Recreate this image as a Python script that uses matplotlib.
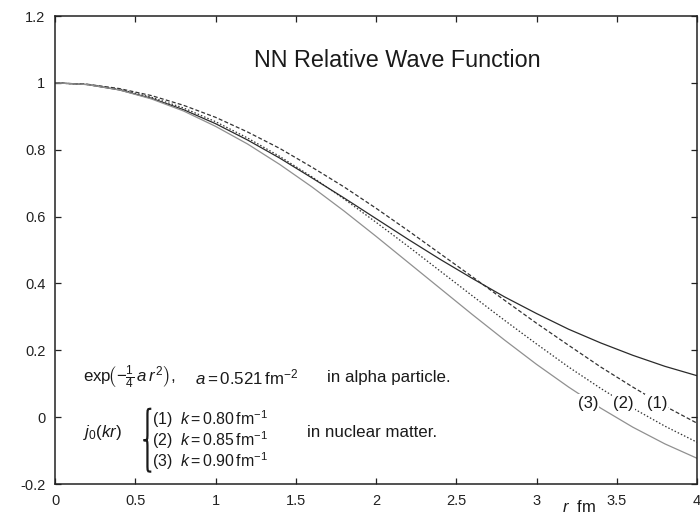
import matplotlib
matplotlib.use('Agg')
import matplotlib.pyplot as plt
from matplotlib.path import Path
from matplotlib.patches import PathPatch
from matplotlib.ticker import FormatStrFormatter

plt.rcParams['font.family'] = ['Liberation Sans', 'DejaVu Sans']
plt.rcParams['mathtext.fontset'] = 'custom'
plt.rcParams['mathtext.rm'] = 'Liberation Sans'
plt.rcParams['mathtext.it'] = 'Liberation Sans:italic'
plt.rcParams['mathtext.bf'] = 'Liberation Sans:bold'
plt.rcParams['axes.unicode_minus'] = False

# r in fm, every 0.2 fm
r = [0.0, 0.2, 0.4, 0.6, 0.8, 1.0, 1.2, 1.4, 1.6, 1.8, 2.0,
     2.2, 2.4, 2.6, 2.8, 3.0, 3.2, 3.4, 3.6, 3.8, 4.0]
gauss = [1.000, 0.995, 0.979, 0.954, 0.920, 0.878, 0.829, 0.775, 0.716, 0.656, 0.594,
         0.532, 0.472, 0.415, 0.360, 0.310, 0.263, 0.222, 0.185, 0.152, 0.124]
j0_k080 = [1.000, 0.996, 0.983, 0.962, 0.933, 0.897, 0.853, 0.804, 0.748, 0.689, 0.625,
           0.558, 0.489, 0.420, 0.350, 0.281, 0.215, 0.150, 0.090, 0.033, -0.018]
j0_k085 = [1.000, 0.995, 0.981, 0.957, 0.925, 0.884, 0.835, 0.780, 0.719, 0.653, 0.583,
           0.511, 0.437, 0.363, 0.290, 0.219, 0.150, 0.086, 0.027, -0.027, -0.075]
j0_k090 = [1.000, 0.995, 0.979, 0.952, 0.916, 0.870, 0.817, 0.756, 0.689, 0.617, 0.541,
           0.463, 0.385, 0.307, 0.231, 0.158, 0.090, 0.027, -0.030, -0.080, -0.123]

xticks = [0, 0.5, 1, 1.5, 2, 2.5, 3, 3.5, 4]
yticks = [-0.2, 0, 0.2, 0.4, 0.6, 0.8, 1, 1.2]

fig = plt.figure(figsize=(7, 5.15), dpi=100)
ax = fig.add_axes([55/700, 31/515, 642/700, 468/515])

ax.plot(r, gauss, '-', color='#2a2a2a', lw=0.9)
ax.plot(r, j0_k080, color='#333333', lw=0.9, dashes=(3.2, 1.8))
ax.plot(r, j0_k085, color='#333333', lw=0.9, dashes=(1.2, 1.6))
ax.plot(r, j0_k090, '-', color='#909090', lw=0.9)

ax.set_xlim(0, 4)
ax.set_ylim(-0.2, 1.2)
ax.set_xticks(xticks)
ax.set_yticks(yticks)
ax.xaxis.set_major_formatter(FormatStrFormatter('%g'))
ax.yaxis.set_major_formatter(FormatStrFormatter('%g'))
ax.tick_params(direction='in', length=4, width=0.9, top=True, right=True,
               labelsize=10.5, colors='#222222')
ax.tick_params(axis='x', pad=7)
ax.tick_params(axis='y', pad=7)
for s in ax.spines.values():
    s.set_linewidth(1.1)
    s.set_color('#222222')

tc = '#1a1a1a'
fs = 12.2
ax.text(2.13, 1.068, 'NN Relative Wave Function', fontsize=16.8, ha='center', va='center', color=tc)

ax.text(0.174, 0.120, r'exp$\!\left(-\frac{1}{4}\,a\,r^2\right)$,', fontsize=fs, va='center', color=tc)
ax.text(0.872, 0.120, r'$a = 0.521\,\mathrm{fm}^{-2}$', fontsize=fs, va='center', color=tc)
ax.text(1.695, 0.120, 'in alpha particle.', fontsize=fs, va='center', color=tc)

ax.text(0.174, -0.045, r'$j_0(kr)$', fontsize=fs, va='center', color=tc)
fk = 11.4
ax.text(0.604, -0.006, r'(1)  $k = 0.80\,\mathrm{fm}^{-1}$', fontsize=fk, va='center', color=tc)
ax.text(0.604, -0.069, r'(2)  $k = 0.85\,\mathrm{fm}^{-1}$', fontsize=fk, va='center', color=tc)
ax.text(0.604, -0.132, r'(3)  $k = 0.90\,\mathrm{fm}^{-1}$', fontsize=fk, va='center', color=tc)
ax.text(1.570, -0.045, 'in nuclear matter.', fontsize=fs, va='center', color=tc)

# curly brace in front of the three k values
xt, xe = 0.552, 0.600
yt, yb = 0.025, -0.163
ym = (yt + yb) / 2
xm = (xt + xe) / 2
q = 0.022
verts = [(xe, yt), (xm, yt), (xm, yt), (xm, yt - q),
         (xm, ym + q),
         (xm, ym), (xm, ym), (xt, ym),
         (xm, ym), (xm, ym), (xm, ym - q),
         (xm, yb + q),
         (xm, yb), (xm, yb), (xe, yb)]
codes = [Path.MOVETO, Path.CURVE4, Path.CURVE4, Path.CURVE4,
         Path.LINETO,
         Path.CURVE4, Path.CURVE4, Path.CURVE4,
         Path.CURVE4, Path.CURVE4, Path.CURVE4,
         Path.LINETO,
         Path.CURVE4, Path.CURVE4, Path.CURVE4]
ax.add_patch(PathPatch(Path(verts, codes), fill=False, lw=1.6, color=tc))

box = dict(facecolor='white', edgecolor='none', pad=1.0)
ax.text(3.32, 0.042, '(3)', fontsize=12, ha='center', va='center', color=tc, bbox=box)
ax.text(3.54, 0.042, '(2)', fontsize=12, ha='center', va='center', color=tc, bbox=box)
ax.text(3.75, 0.042, '(1)', fontsize=12, ha='center', va='center', color=tc, bbox=box)

ax.text(3.16, -0.269, r'$r$  fm', fontsize=12, va='center', color=tc, clip_on=False)

fig.savefig('out.png', dpi=100)
